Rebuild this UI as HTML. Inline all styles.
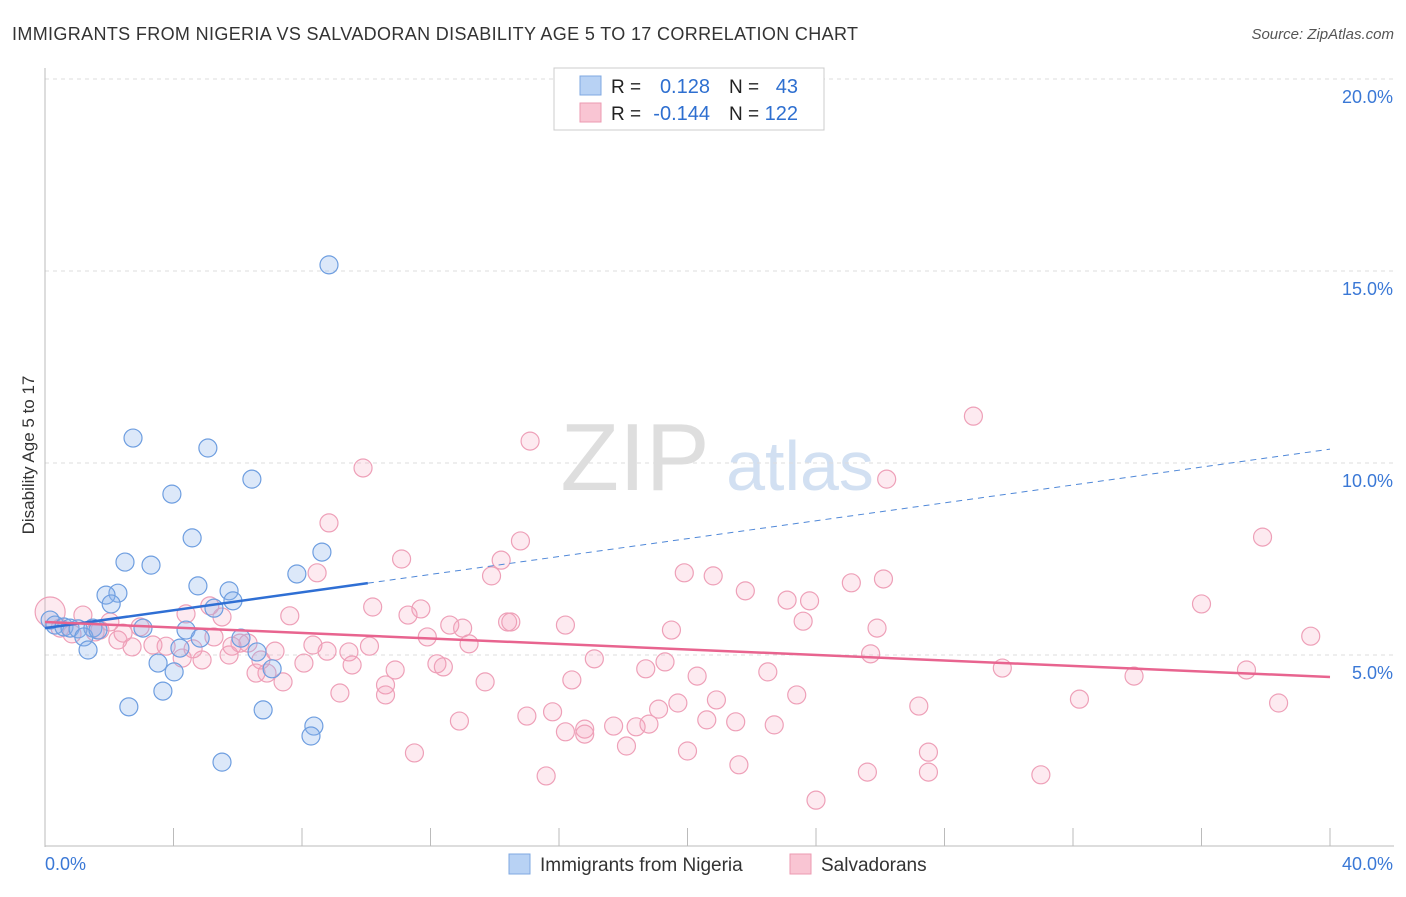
<!DOCTYPE html>
<html><head><meta charset="utf-8">
<style>
body{margin:0;background:#fff;font-family:"Liberation Sans",sans-serif;}
svg text{font-family:"Liberation Sans",sans-serif;}
</style></head>
<body>
<svg id="chart" width="1406" height="892" xmlns="http://www.w3.org/2000/svg">
<text x="12" y="40" font-size="18" fill="#333" textLength="846">IMMIGRANTS FROM NIGERIA VS SALVADORAN DISABILITY AGE 5 TO 17 CORRELATION CHART</text>
<text x="1394" y="39" font-size="15" fill="#555" font-style="italic" text-anchor="end">Source: ZipAtlas.com</text>
<text x="34" y="455" font-size="17" fill="#333" text-anchor="middle" transform="rotate(-90 34 455)">Disability Age 5 to 17</text>
<g><text x="635" y="490" font-size="96" fill="#dedede" font-family="Liberation Serif" text-anchor="middle">ZIP</text><text x="800" y="490" font-size="70" fill="#d2e0f2" text-anchor="middle">atlas</text></g>
<g id="grid"></g><g id="axes"></g><g id="pink"></g><g id="blue"></g><g id="lines"></g>
<g>
<rect x="554" y="68" width="270" height="62" fill="#fff" stroke="#ccc"/>
<rect x="580" y="76" width="21" height="19" fill="#b8d2f4" stroke="#7fa8e2"/>
<rect x="580" y="103" width="21" height="19" fill="#f9c5d3" stroke="#ec9ab2"/>
<text x="611" y="93" font-size="19" fill="#222">R =</text><text x="710" y="93" font-size="20" fill="#2e6fd0" text-anchor="end">0.128</text>
<text x="729" y="93" font-size="19" fill="#222">N =</text><text x="798" y="93" font-size="20" fill="#2e6fd0" text-anchor="end">43</text>
<text x="611" y="120" font-size="19" fill="#222">R =</text><text x="710" y="120" font-size="20" fill="#2e6fd0" text-anchor="end">-0.144</text>
<text x="729" y="120" font-size="19" fill="#222">N =</text><text x="798" y="120" font-size="20" fill="#2e6fd0" text-anchor="end">122</text>
</g>
<g>
<rect x="509" y="854" width="21" height="20" fill="#b8d2f4" stroke="#7fa8e2"/>
<text x="540" y="871" font-size="19" fill="#333">Immigrants from Nigeria</text>
<rect x="790" y="854" width="21" height="20" fill="#f9c5d3" stroke="#ec9ab2"/>
<text x="821" y="871" font-size="19" fill="#333">Salvadorans</text>
</g>
</svg>
<script>
const yTicks=[5,10,15,20];
const yTickLabels=["5.0%","10.0%","15.0%","20.0%"];
const xTickVals=[0,4,8,12,16,20,24,28,32,36,40];
const blueX=[8.84,2.74,5.07,6.44,3.95,4.58,8.62,2.49,3.30,7.84,4.76,5.73,2.27,1.90,5.85,2.06,5.26,0.16,0.31,0.59,0.78,1.03,1.49,3.05,4.39,1.21,4.83,6.10,4.20,1.34,6.60,3.52,4.02,7.07,3.67,2.61,6.79,8.37,8.28,5.51,1.65];
const blueY=[15.16,10.65,10.39,9.58,9.19,8.05,7.68,7.42,7.34,7.11,6.80,6.67,6.61,6.56,6.41,6.33,6.22,5.91,5.78,5.73,5.70,5.68,5.70,5.70,5.65,5.47,5.44,5.44,5.18,5.13,5.08,4.79,4.56,4.64,4.06,3.65,3.57,3.15,2.89,2.21,5.65];
const pinkX=[0.16,15.1,28.9,9.9,26.2,8.84,14.8,37.9,11.1,14.2,8.47,13.9,19.9,20.8,25.1,26.1,21.8,23.1,23.8,36.0,10.2,11.7,11.3,7.62,4.39,5.13,5.51,1.18,2.02,14.4,14.5,16.2,12.6,13.0,23.6,19.5,25.9,39.4,11.9,13.2,8.34,10.1,9.46,8.78,6.32,7.16,5.82,5.26,3.77,3.36,2.27,2.71,4.27,4.89,5.73,6.72,8.06,9.56,10.9,12.2,12.4,17.1,19.3,18.7,20.3,22.5,25.7,29.8,33.9,37.4,6.91,7.41,6.57,10.6,10.6,9.18,13.7,16.4,19.1,19.7,20.9,23.4,27.2,32.2,38.4,12.9,15.0,15.8,16.2,16.8,16.8,17.7,18.4,18.8,20.6,21.5,22.7,11.5,18.1,20.0,21.6,27.5,15.6,25.6,27.5,31.0,24.0,1.56,0.47,0.84,1.71,2.96,2.43,4.61,6.07];
const pinkY=[6.12,10.57,11.22,9.87,9.58,8.44,7.97,8.07,7.5,7.47,7.14,7.06,7.14,7.06,6.88,6.98,6.67,6.43,6.41,6.33,6.25,6.20,6.04,6.02,6.07,6.28,5.99,6.04,5.86,5.86,5.86,5.78,5.78,5.70,5.88,5.65,5.70,5.49,5.47,5.29,5.26,5.23,5.08,5.10,5.31,5.10,5.23,5.47,5.23,5.26,5.39,5.21,4.92,4.87,5.0,4.87,4.79,4.74,4.61,4.77,4.69,4.90,4.82,4.64,4.45,4.56,5.03,4.66,4.45,4.61,4.53,4.30,4.53,4.22,3.96,4.01,4.30,4.35,3.59,3.75,3.83,3.96,3.67,3.85,3.75,3.28,3.41,3.52,3.0,3.07,2.94,3.15,3.13,3.20,3.31,3.26,3.18,2.45,2.63,2.5,2.14,2.47,1.85,1.95,1.95,1.88,1.22,5.6,5.70,5.55,5.65,5.73,5.57,5.16,5.31];
const blueTrend=[5.70,0.1165,10.05];
const pinkTrend=[5.86,-0.0358];
const NS="http://www.w3.org/2000/svg";
const X=v=>45+v/40*1285, Y=v=>847-v*38.4;
function mk(tag,attrs,parent){const e=document.createElementNS(NS,tag);for(const k in attrs)e.setAttribute(k,attrs[k]);document.getElementById(parent).appendChild(e);return e;}
yTicks.forEach((t,i)=>{
 const g=mk('line',{x1:45,x2:1394,y1:Y(t),y2:Y(t),stroke:'#ddd','stroke-dasharray':'4,4'},'grid');
 
 
 const l=mk('text',{x:1393,y:Y(t)+24,'font-size':18,fill:'#3a78d6','text-anchor':'end'},'axes');l.textContent=yTickLabels[i];
 
 
});
const ax=mk('line',{x1:45,x2:45,y1:68,y2:847,stroke:'#bbb'},'axes');


const bx=mk('line',{x1:45,x2:1394,y1:846,y2:846,stroke:'#bbb'},'axes');


xTickVals.forEach(t=>{const e=mk('line',{x1:X(t),x2:X(t),y1:828,y2:846,stroke:'#bbb'},'axes');
 
 });
const xl0=mk('text',{x:45,y:870,'font-size':18,fill:'#3a78d6'},'axes');xl0.textContent='0.0%';


const xl1=mk('text',{x:1393,y:870,'font-size':18,fill:'#3a78d6','text-anchor':'end'},'axes');xl1.textContent='40.0%';


pinkX.forEach((x,i)=>{const c=mk('circle',{cx:X(x),cy:Y(pinkY[i]),r:i===0?15:9,fill:'rgba(245,160,185,0.22)',stroke:'#eea0b8','stroke-width':1.2},'pink');
 
 });
blueX.forEach((x,i)=>{const c=mk('circle',{cx:X(x),cy:Y(blueY[i]),r:9,fill:'rgba(140,180,235,0.3)',stroke:'#6e9ee0','stroke-width':1.2},'blue');
 
 });
const b1=mk('line',{x1:X(0),y1:Y(blueTrend[0]),x2:X(blueTrend[2]),y2:Y(blueTrend[0]+blueTrend[1]*blueTrend[2]),stroke:'#2f6fd4','stroke-width':2.5},'lines');


const b2=mk('line',{x1:X(blueTrend[2]),y1:Y(blueTrend[0]+blueTrend[1]*blueTrend[2]),x2:X(40),y2:Y(blueTrend[0]+blueTrend[1]*40),stroke:'#5088d8','stroke-width':1,'stroke-dasharray':'6,5'},'lines');


const p1=mk('line',{x1:X(0),y1:Y(pinkTrend[0]),x2:X(40),y2:Y(pinkTrend[0]+pinkTrend[1]*40),stroke:'#e8648f','stroke-width':2.5},'lines');


</script>
</body></html>
